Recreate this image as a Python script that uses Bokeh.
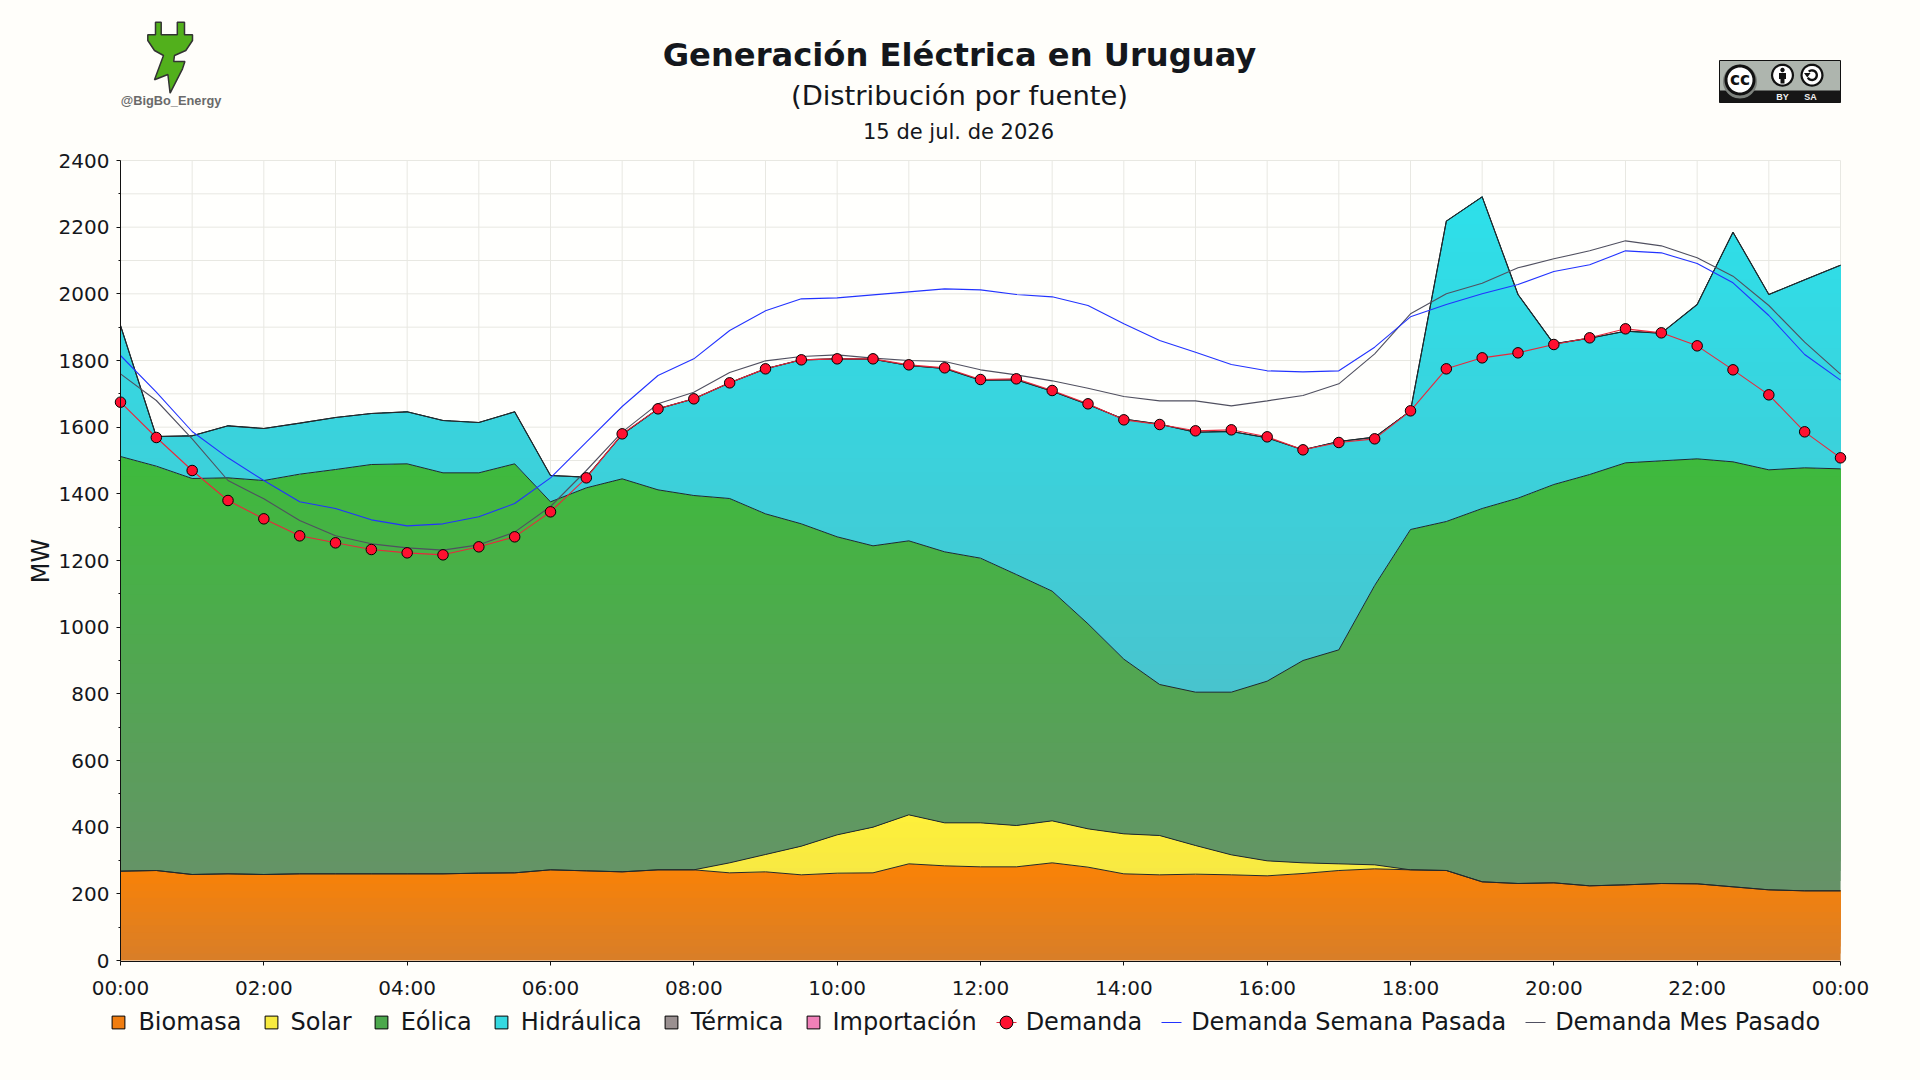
import numpy as np
from bokeh.plotting import figure
from bokeh.embed import file_html
from bokeh.resources import INLINE
from bokeh.core.properties import value
from bokeh.models import Range1d, LinearAxis, FixedTicker, Legend, LegendItem

# ---------- data (MW; one value every 30 minutes) ----------
horas = [i / 2 for i in range(49)]
tick_horas = [0, 2, 4, 6, 8, 10, 12, 14, 16, 18, 20, 22, 24]
tick_labels = ["00:00", "02:00", "04:00", "06:00", "08:00", "10:00", "12:00",
               "14:00", "16:00", "18:00", "20:00", "22:00", "00:00"]

# tops of the stacked areas
tope_biomasa = [268, 270, 258, 260, 258, 260, 260, 260, 260, 260, 262, 263, 272, 269, 266, 272, 272,
                263, 266, 257, 262, 263, 290, 284, 281, 281, 293, 280, 260, 257, 259, 257, 254,
                261, 270, 275, 272, 270, 236, 231, 233, 224, 227, 231, 230, 221, 212, 209, 209]
tope_solar = [268, 270, 258, 260, 258, 260, 260, 260, 260, 260, 262, 263, 272, 269, 266, 272, 272,
              293, 318, 343, 377, 400, 437, 413, 413, 405, 419, 395, 380, 375, 345, 317, 299,
              293, 290, 287, 272, 270, 236, 231, 233, 224, 227, 231, 230, 221, 212, 209, 209]
tope_eolica = [1512, 1483, 1446, 1448, 1440, 1459, 1473, 1488, 1490, 1463, 1463, 1490, 1376, 1418, 1445,
               1412, 1395, 1386, 1340, 1310, 1271, 1244, 1259, 1226, 1207, 1158, 1108, 1010, 904, 828,
               805, 805, 838, 900, 932, 1125, 1293, 1317, 1356, 1387, 1428, 1458, 1493, 1499, 1505,
               1496, 1472, 1478, 1475]
tope_hidraulica = [1905, 1572, 1574, 1604, 1596, 1612, 1629, 1641, 1646, 1620, 1614, 1646, 1455, 1450, 1578,
                   1655, 1685, 1733, 1775, 1802, 1805, 1804, 1785, 1776, 1741, 1742, 1708, 1668, 1624, 1609,
                   1585, 1587, 1568, 1532, 1557, 1570, 1649, 2218, 2291, 1998, 1850, 1867, 1888, 1882, 1968,
                   2185, 1998, 2042, 2086]
termica = [0] * 49
importacion = [0] * 49

demanda = [1675, 1569, 1470, 1380, 1325, 1274, 1253, 1233, 1223, 1217, 1241, 1271, 1346, 1448, 1580,
           1655, 1685, 1733, 1775, 1802, 1805, 1805, 1787, 1778, 1743, 1745, 1710, 1670, 1622, 1608,
           1589, 1592, 1571, 1532, 1554, 1565, 1649, 1775, 1808, 1823, 1848, 1868, 1895, 1883, 1844,
           1772, 1697, 1586, 1508]
semana_pasada = [1815, 1705, 1587, 1508, 1440, 1376, 1356, 1322, 1304, 1310, 1331, 1371, 1448, 1555, 1662,
                 1755, 1805, 1890, 1949, 1985, 1988, 1997, 2006, 2015, 2012, 1998, 1991, 1965, 1910, 1860,
                 1825, 1788, 1769, 1766, 1769, 1840, 1931, 1968, 2000, 2028, 2067, 2087, 2129, 2123, 2091,
                 2033, 1935, 1818, 1741]
mes_pasado = [1760, 1680, 1565, 1440, 1385, 1320, 1274, 1250, 1238, 1231, 1247, 1285, 1362, 1470, 1585,
              1670, 1705, 1764, 1799, 1812, 1817, 1807, 1800, 1797, 1772, 1757, 1739, 1717, 1692, 1679,
              1679, 1664, 1679, 1695, 1730, 1820, 1940, 2000, 2032, 2078, 2105, 2129, 2159, 2144, 2108,
              2053, 1965, 1855, 1759]

nombres_fuentes = ["Biomasa", "Solar", "Eólica", "Hidráulica", "Térmica", "Importación"]
nombres_lineas = ["Demanda", "Demanda Semana Pasada", "Demanda Mes Pasado"]

# ---------- styles ----------
PAGE = "#fffefa"
FONT = "DejaVu Sans"
TXT = "#14171c"
GRAD = {"Biomasa": ((251, 130, 5), (216, 126, 40)),
        "Solar": ((255, 240, 58), (244, 230, 70)),
        "Eólica": ((62, 186, 60), (102, 146, 104)),
        "Hidráulica": ((45, 224, 234), (72, 196, 206))}
SWATCH = {"Biomasa": "#f07d10", "Solar": "#f7ea3f", "Eólica": "#4ca84c",
          "Hidráulica": "#35d8e0", "Térmica": "#9a9090", "Importación": "#f080b8"}
OUT = "#22282c"

# The frame fills the page so that nothing (end markers, legend, header) is clipped.
PX_H = 1720 / 24     # pixels per hour
PX_MW = 800 / 2400   # pixels per MW


def X(px):
    return (px - 120) / PX_H


def Y(py):
    return (960 - py) / PX_MW


p = figure(width=1920, height=1080, output_backend="svg", toolbar_location=None,
           x_range=Range1d(X(0), X(1920)), y_range=Range1d(Y(1080), Y(0)),
           x_axis_type=None, y_axis_type=None,
           min_border_left=0, min_border_right=0, min_border_top=0, min_border_bottom=0,
           background_fill_color=PAGE, border_fill_color=PAGE, outline_line_color=None)

# plot area and grid
p.quad(left=[0], right=[24], bottom=[0], top=[2400], fill_color="#fffffd", line_color=None, level="image")
grid_h = list(range(1, 25))
grid_mw = list(range(100, 2401, 100))
p.segment(x0=grid_h, y0=[0] * len(grid_h), x1=grid_h, y1=[2400] * len(grid_h),
          line_color="#e8e8e2", line_width=1, level="underlay")
p.segment(x0=[0] * len(grid_mw), y0=grid_mw, x1=[24] * len(grid_mw), y1=grid_mw,
          line_color="#e8e8e2", line_width=1, level="underlay")

# axes
xax = LinearAxis(ticker=FixedTicker(ticks=tick_horas), bounds=(0, 24), fixed_location=Y(961),
                 major_label_overrides=dict(zip(tick_horas, tick_labels)),
                 major_label_text_font=FONT, major_label_text_font_size="20px",
                 major_label_text_color=TXT, major_label_standoff=10,
                 major_tick_out=4, major_tick_in=0, minor_tick_out=0, minor_tick_in=0,
                 axis_line_color="#111111", major_tick_line_color="#111111")
yax = LinearAxis(ticker=FixedTicker(ticks=list(range(0, 2401, 200)),
                                    minor_ticks=list(range(100, 2400, 200))),
                 bounds=(Y(961), 2400), fixed_location=0,
                 major_label_text_font=FONT, major_label_text_font_size="20px",
                 major_label_text_color=TXT, major_label_standoff=7,
                 major_tick_out=4, major_tick_in=0, minor_tick_out=2, minor_tick_in=0,
                 axis_line_color="#111111", major_tick_line_color="#111111",
                 minor_tick_line_color="#111111",
                 axis_label="MW", axis_label_text_font=FONT, axis_label_text_font_size="24px",
                 axis_label_text_font_style="normal", axis_label_text_color=TXT,
                 axis_label_standoff=1)
p.add_layout(xax, "below")
p.add_layout(yax, "left")

x = np.array(horas, dtype=float)


def gradient_area(lower, upper, name, n):
    """Area between two curves, painted as flat bands from bottom to top."""
    lower = np.array(lower, dtype=float)
    upper = np.array(upper, dtype=float)
    c_top, c_bot = GRAD[name]
    y0, y1 = lower.min(), upper.max()
    for k in range(n):
        yk = y0 + (y1 - y0) * k / n
        t = (k + 0.5) / n
        col = tuple(int(round(b + (a - b) * t)) for a, b in zip(c_top, c_bot))
        extra = []
        for arr in (lower, upper):
            for i in range(len(x) - 1):
                if (arr[i] - yk) * (arr[i + 1] - yk) < 0:
                    extra.append(x[i] + (yk - arr[i]) / (arr[i + 1] - arr[i]) * (x[i + 1] - x[i]))
        xs = np.unique(np.concatenate([x, extra]))
        lo = np.maximum(np.interp(xs, x, lower), yk)
        hi = np.maximum(np.interp(xs, x, upper), yk)
        p.varea(x=xs, y1=lo, y2=hi, fill_color="#%02x%02x%02x" % col)


zero = [0] * 49
gradient_area(zero, tope_biomasa, "Biomasa", 14)
gradient_area(tope_biomasa, tope_solar, "Solar", 10)
gradient_area(tope_solar, tope_eolica, "Eólica", 44)
gradient_area(tope_eolica, tope_hidraulica, "Hidráulica", 36)

tope_termica = np.array(tope_hidraulica) + np.array(termica)
tope_importacion = tope_termica + np.array(importacion)
for top, w in ((tope_biomasa, 1), (tope_solar, 1), (tope_eolica, 1),
               (tope_hidraulica, 1.1), (tope_termica, 0.7), (tope_importacion, 0.5)):
    p.line(horas, top, line_color=OUT, line_width=w)

p.line(horas, mes_pasado, line_color="#505060", line_width=1.1)
p.line(horas, semana_pasada, line_color="#2233ff", line_width=1.1)
p.line(horas, demanda, line_color="#e8283c", line_width=1.1)
r_dem_m = p.scatter(horas, demanda, marker="circle", size=10.5, fill_color="#ff1030",
                    line_color="#000000", line_width=1)

# ---------- legend (empty renderers only give the legend its keys) ----------
nan = [float("nan")]
KEY_DASH = "0 6 20 100"   # a 20 px key centred in the 32 px glyph box
items = []
for name in nombres_fuentes:
    r = p.scatter(nan, nan, marker="square", fill_color=SWATCH[name], line_color="#000000", line_width=1)
    items.append(LegendItem(label=name, renderers=[r]))
k_dem = p.line(nan, nan, line_color="#e8283c", line_width=1, line_dash=KEY_DASH)
items.append(LegendItem(label=nombres_lineas[0], renderers=[k_dem, r_dem_m]))
k_sem = p.line(nan, nan, line_color="#2233ff", line_width=1, line_dash=KEY_DASH)
items.append(LegendItem(label=nombres_lineas[1], renderers=[k_sem]))
k_mes = p.line(nan, nan, line_color="#505060", line_width=1, line_dash=KEY_DASH)
items.append(LegendItem(label=nombres_lineas[2], renderers=[k_mes]))
p.add_layout(Legend(items=items, location=(102.4, 42), orientation="horizontal",
                    glyph_width=32, glyph_height=32, label_standoff=4, spacing=13, padding=0, margin=0,
                    background_fill_alpha=0, border_line_color=None, label_text_font=FONT,
                    label_text_font_size="24px", label_text_color=TXT, label_text_baseline="middle"),
             "center")


# ---------- header texts ----------
def label(text, xp, yp, size, bold=False, color=TXT, font=FONT):
    p.text(x=[X(xp)], y=[Y(yp)], text=[text], text_font=value(font), text_font_size=value(size),
           text_font_style="bold" if bold else "normal", text_color=color,
           text_align="center", text_baseline="middle")


label("Generación Eléctrica en Uruguay", 959, 54, "32.2px", bold=True)
label("(Distribución por fuente)", 959, 95, "27.4px")
label("15 de jul. de 2026", 958, 131, "21px")


# ---------- logo and licence badge ----------
def poly(pts, fill, line=None, w=1.0):
    p.patch(x=[X(a) for a, b in pts], y=[Y(b) for a, b in pts], fill_color=fill,
            line_color=line, line_width=w, line_alpha=1 if line else 0)


def circle(cx, cy, r, n=48):
    return [(cx + r * np.cos(a), cy + r * np.sin(a)) for a in np.linspace(0, 2 * np.pi, n, endpoint=False)]


plug = [(155, 21.7), (160.7, 21.7), (160.7, 34.3), (176.8, 34.3), (176.8, 21.7), (184, 21.7), (184, 34.3),
        (192, 34.3), (192, 40), (185.3, 50), (174, 55), (173.2, 61), (184.4, 61), (182, 68.3), (169.6, 92.7),
        (167.4, 74), (154, 79.3), (163, 55), (154, 50), (147.3, 40), (147.3, 34.3), (155, 34.3)]
poly(plug, "#52b01c", "#333333", 1.5)
label("@BigBo_Energy", 170.5, 100, "12.8px", bold=True, color="#6a6a6a", font="Liberation Sans")

poly([(1719, 60), (1840, 60), (1840, 102), (1719, 102)], "#aeb5ae", "#111111", 1)
poly([(1719, 90), (1840, 90), (1840, 102), (1719, 102)], "#161616")
poly(circle(1739.5, 81, 17), "#7d827d")
poly(circle(1739.5, 79.5, 15.5), "#111111")
poly(circle(1739.5, 79.5, 12.5), "#ffffff")
label("cc", 1739.5, 78.5, "17px", bold=True, color="#111111")
for cx in (1782, 1811.5):
    poly(circle(cx, 74.7, 11.5), "#111111")
    poly(circle(cx, 74.7, 9.3), "#ffffff")
poly(circle(1782, 69.5, 2.2), "#111111")
poly([(1778.5, 72.5), (1785.5, 72.5), (1785.5, 78.5), (1784, 78.5), (1784, 83), (1780, 83), (1780, 78.5), (1778.5, 78.5)], "#111111")
arc_o = [(1811.5 + 6 * np.cos(a), 74.7 + 6 * np.sin(a)) for a in np.linspace(-2.3, 2.6, 24)]
arc_i = [(1811.5 + 3.6 * np.cos(a), 74.7 + 3.6 * np.sin(a)) for a in np.linspace(2.6, -2.3, 24)]
poly(arc_o + arc_i, "#111111")
poly([(1803.5, 72.5), (1810, 72.5), (1806.8, 77)], "#111111")
label("BY", 1782, 96, "9px", bold=True, color="#f0f0f0", font="Liberation Sans")
label("SA", 1810, 96, "9px", bold=True, color="#f0f0f0", font="Liberation Sans")

TEMPLATE = """{% block postamble %}<style>html,body{background:#fffefa;margin:0;overflow:hidden;}</style>{% endblock %}
"""
open("out.html", "w").write(file_html(p, INLINE, template=TEMPLATE))
